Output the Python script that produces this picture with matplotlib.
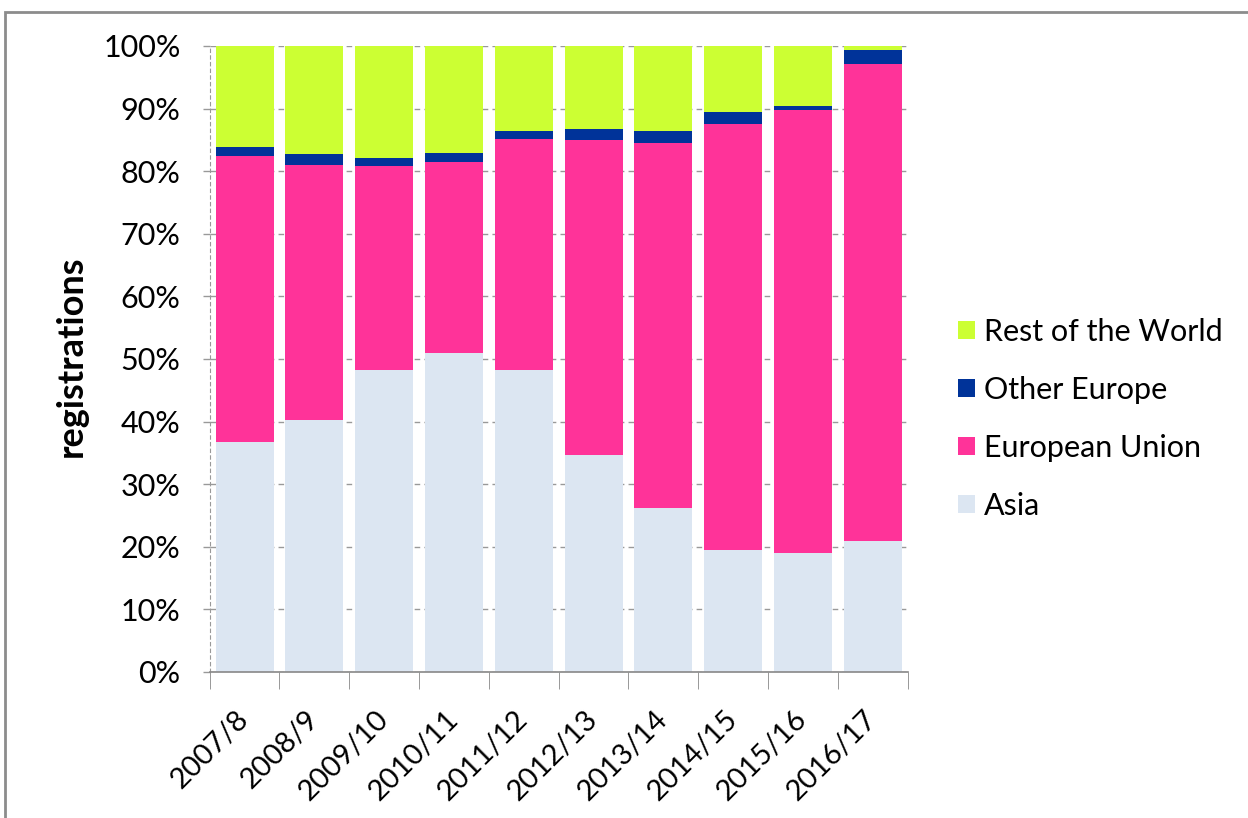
import matplotlib.pyplot as plt
import numpy as np
from matplotlib.patches import Rectangle
from matplotlib.ticker import PercentFormatter

plt.rcParams['font.family'] = ['Lato', 'DejaVu Sans']

years = ['2007/8', '2008/9', '2009/10', '2010/11', '2011/12',
         '2012/13', '2013/14', '2014/15', '2015/16', '2016/17']
# shares in percent
asia = [36.7, 40.3, 48.2, 51.0, 48.2, 34.7, 26.2, 19.5, 19.0, 20.9]
eu = [45.8, 40.7, 32.6, 30.4, 36.9, 50.2, 58.3, 68.1, 70.8, 76.3]
other_europe = [1.4, 1.7, 1.3, 1.5, 1.3, 1.9, 1.9, 1.9, 0.6, 2.1]
rest_world = [16.1, 17.3, 17.9, 17.1, 13.6, 13.2, 13.6, 10.5, 9.6, 0.7]

colors = {'Asia': '#dce6f2', 'European Union': '#ff3399',
          'Other Europe': '#003399', 'Rest of the World': '#ccff33'}

fig = plt.figure(figsize=(12.48, 8.18), dpi=100)
ax = fig.add_axes([0.168, 0.1785, 0.5593, 0.7653])

x = np.arange(len(years))
w = 0.83
bottom = np.zeros(len(years))
bars = {}
for name, vals in [('Asia', asia), ('European Union', eu),
                   ('Other Europe', other_europe), ('Rest of the World', rest_world)]:
    bars[name] = ax.bar(x, vals, w, bottom=bottom, color=colors[name], zorder=2)
    bottom += np.array(vals)

ax.set_xlim(-0.5, len(years) - 0.5)
ax.set_ylim(0, 100)
ax.set_yticks(np.arange(0, 101, 10))
ax.yaxis.set_major_formatter(PercentFormatter(decimals=0))
ax.yaxis.grid(True, linestyle=(0, (4, 3)), color='#999999', linewidth=1, zorder=0)

ax.set_xticks(x)
ax.set_xticklabels(years, rotation=45, ha='right', va='center',
                   rotation_mode='anchor', fontsize=21)
ax.set_xticks(np.arange(-0.5, len(years)), minor=True)
ax.tick_params(axis='x', which='major', length=0, pad=31)
ax.tick_params(axis='x', which='minor', length=12, color='#888888', direction='out')
ax.tick_params(axis='y', length=5, width=1, color='#999999', labelsize=22, pad=16)

for s in ['top', 'right']:
    ax.spines[s].set_visible(False)
ax.spines['left'].set_linestyle((0, (3, 3)))
ax.spines['left'].set_color('#999999')
ax.spines['left'].set_linewidth(0.8)
ax.spines['bottom'].set_color('#888888')
ax.spines['bottom'].set_linewidth(1.2)

ax.set_ylabel('registrations', fontsize=26, fontweight='bold')
ax.yaxis.set_label_coords(-0.175, 0.505)

order = ['Rest of the World', 'Other Europe', 'European Union', 'Asia']
fig.legend([bars[n] for n in order], order, loc='center left',
           bbox_to_anchor=(0.7676, 0.4878), frameon=False, fontsize=22,
           borderpad=0, borderaxespad=0,
           handlelength=0.55, handleheight=0.55, labelspacing=0.98, handletextpad=0.3)

# outer frame
fig.patches.append(Rectangle((5 / 1248, -0.05), 1.0, 1 - 12 / 818 + 0.05,
                             transform=fig.transFigure, fill=False,
                             edgecolor='#8c8c8c', linewidth=2))

fig.savefig('out.png', dpi=100)
